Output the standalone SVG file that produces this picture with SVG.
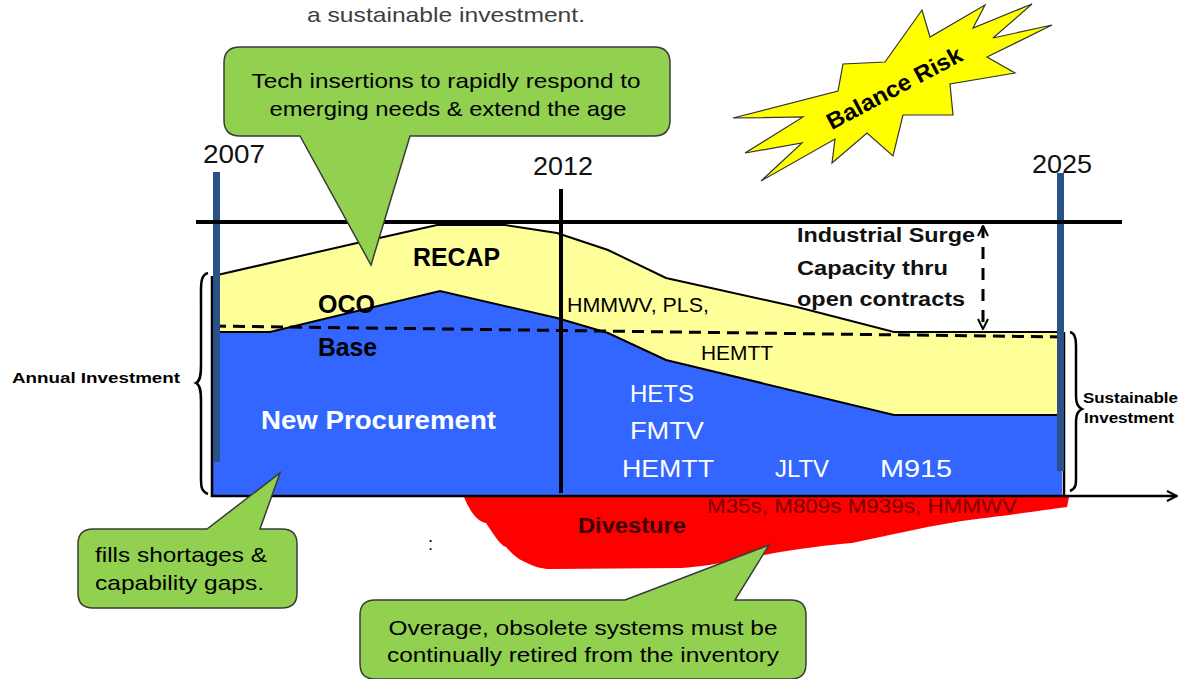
<svg xmlns="http://www.w3.org/2000/svg" width="1186" height="679" viewBox="0 0 1186 679">
<defs>
<style>
.cal{font-family:"Liberation Sans","Open Sans",sans-serif;}
.b{font-weight:bold;}
.callout{fill:#92D050;stroke:#3a3a3a;stroke-width:1.5;}
.ct{font-family:"Liberation Sans",Arial,sans-serif;font-size:21px;fill:#000;}
.wt{fill:#fff;font-size:24px;}
.yr{font-size:26px;fill:#111;}
.bar{fill:#2a5288;}
.blk{stroke:#000;fill:none;}
</style>
<marker id="openArrow" viewBox="0 0 12 12" refX="11" refY="6" markerWidth="12" markerHeight="12" markerUnits="userSpaceOnUse" orient="auto-start-reverse">
<path d="M1,1 L11,6 L1,11" fill="none" stroke="#000" stroke-width="2"/>
</marker>
</defs>
<rect width="1186" height="679" fill="#fff"/>

<text class="cal" x="446" y="22" font-size="21" fill="#404040" text-anchor="middle" textLength="278" lengthAdjust="spacingAndGlyphs">a sustainable investment.</text>

<g id="chart">
<path id="divesture-area" d="M464,497 C470,512 478,522 486,523 C494,535 500,545 506,547 C514,556 520,560 525,562 C535,567 542,569 550,569 L681,568 C720,565 745,558 764,555 C800,548 830,545 852,543 C890,535 920,528 950,523 C980,518 1005,516 1023,513 C1045,510 1060,508 1067,507 L1069,497 Z" fill="#FF0000"/>
<polygon id="recap-area" points="213,276 357,243 437,225 505,225 557,233 608,250 666,278 797,307 894,332 1062,332 1062,496 213,496" fill="#FFFF99"/>
<polyline points="213,276 357,243 437,225 505,225 557,233 608,250 666,278 797,307 894,332 1062,332" class="blk" stroke-width="2"/>
<polygon id="procurement-area" points="213,332 270,332 440,291 557,318 608,333 666,360 894,415 1062,415 1062,496 213,496" fill="#3366FF"/>
<polyline points="213,332 270,332 440,291 557,318 608,333 666,360 894,415 1062,415" class="blk" stroke-width="2"/>
<line x1="214" y1="326" x2="1062" y2="337" stroke="#000" stroke-width="3" stroke-dasharray="12,7"/>
<path d="M212,276 L212,496 L1064,496 L1064,332" class="blk" stroke-width="2.5"/>
<rect class="bar" x="213" y="172" width="7" height="290"/>
<rect class="bar" x="1057" y="173" width="7" height="298"/>
<line x1="196" y1="222" x2="1122" y2="222" stroke="#000" stroke-width="4"/>
<line x1="561" y1="189" x2="561" y2="493" stroke="#000" stroke-width="4"/>
</g>

<g id="connectors">
<line x1="1064" y1="496" x2="1177" y2="496" stroke="#000" stroke-width="2.5" marker-end="url(#openArrow)"/>
<line x1="983" y1="226" x2="983" y2="329" stroke="#000" stroke-width="3" stroke-dasharray="12,9" marker-start="url(#openArrow)" marker-end="url(#openArrow)"/>
<path d="M208,273 C200,275 201,285 201,300 L201,365 C201,376 200,381 196,383 C200,385 201,390 201,401 L201,470 C201,485 200,491 208,494" class="blk" stroke-width="2.5"/>
<path d="M1070,332 C1077,334 1076,343 1076,355 L1076,395 C1076,404 1078,407 1082,409 C1078,411 1076,414 1076,423 L1076,470 C1076,484 1077,488 1070,491" class="blk" stroke-width="2.5"/>
</g>

<g id="labels">
<text class="cal yr" x="203" y="163" textLength="62" lengthAdjust="spacingAndGlyphs">2007</text>
<text class="cal yr" x="533" y="175" textLength="60" lengthAdjust="spacingAndGlyphs">2012</text>
<text class="cal yr" x="1032" y="173" textLength="60" lengthAdjust="spacingAndGlyphs">2025</text>
<text class="cal b" x="413" y="266" font-size="26" textLength="87" lengthAdjust="spacingAndGlyphs">RECAP</text>
<text class="cal b" x="318" y="313" font-size="25" textLength="57" lengthAdjust="spacingAndGlyphs">OCO</text>
<text class="cal b" x="318" y="356" font-size="25" textLength="59" lengthAdjust="spacingAndGlyphs">Base</text>
<text class="cal b" x="261" y="429" font-size="25" fill="#fff" textLength="235" lengthAdjust="spacingAndGlyphs">New Procurement</text>
<text class="cal" x="567" y="312" font-size="20" textLength="142" lengthAdjust="spacingAndGlyphs">HMMWV, PLS,</text>
<text class="cal" x="701" y="360" font-size="20" textLength="72" lengthAdjust="spacingAndGlyphs">HEMTT</text>
<text class="cal wt" x="630" y="402" textLength="64" lengthAdjust="spacingAndGlyphs">HETS</text>
<text class="cal wt" x="630" y="439" textLength="74" lengthAdjust="spacingAndGlyphs">FMTV</text>
<text class="cal wt" x="622" y="477" textLength="92" lengthAdjust="spacingAndGlyphs">HEMTT</text>
<text class="cal wt" x="775" y="477" textLength="54" lengthAdjust="spacingAndGlyphs">JLTV</text>
<text class="cal wt" x="880" y="477" textLength="72" lengthAdjust="spacingAndGlyphs">M915</text>
<text class="cal b" x="797" y="242" font-size="20" fill="#111" textLength="178" lengthAdjust="spacingAndGlyphs">Industrial Surge</text>
<text class="cal b" x="797" y="275" font-size="20" fill="#111" textLength="151" lengthAdjust="spacingAndGlyphs">Capacity thru</text>
<text class="cal b" x="797" y="306" font-size="20" fill="#111" textLength="168" lengthAdjust="spacingAndGlyphs">open contracts</text>
<text class="cal b" x="12" y="383" font-size="15" textLength="168" lengthAdjust="spacingAndGlyphs">Annual Investment</text>
<text class="cal b" x="1083" y="403" font-size="14" textLength="95" lengthAdjust="spacingAndGlyphs">Sustainable</text>
<text class="cal b" x="1084" y="423" font-size="14" textLength="90" lengthAdjust="spacingAndGlyphs">Investment</text>
<text class="cal b" x="578" y="533" font-size="22" fill="#3a0000" textLength="108" lengthAdjust="spacingAndGlyphs">Divesture</text>
<text class="cal" x="707" y="513" font-size="20" fill="#7a0000" textLength="310" lengthAdjust="spacingAndGlyphs">M35s, M809s M939s, HMMWV</text>
<text class="cal" x="428" y="550" font-size="18" fill="#000">:</text>
</g>

<g id="balance-risk">
<polygon points="733,118 838,91 843,64 885,62 922,10 930,37 985,5 973,28 1032,4 993,38 1052,25 987,57 1015,73 950,84 953,115 903,115 893,156 867,133 832,163 835,139 761,181 802,143 745,153 803,117" fill="#FFFF00" stroke="#333" stroke-width="1.2"/>
<text transform="translate(898,95) rotate(-28)" text-anchor="middle" font-family="Liberation Sans, Arial, sans-serif" font-weight="bold" font-size="23" textLength="150" lengthAdjust="spacingAndGlyphs">Balance Risk</text>
</g>

<g id="callout-tech">
<path class="callout" d="M240,47 L654,47 Q670,47 670,63 L670,120 Q670,136 654,136 L410,136 L371,265 L300,136 L240,136 Q224,136 224,120 L224,63 Q224,47 240,47 Z"/>
<text class="ct" x="446" y="88" text-anchor="middle" font-size="22" textLength="389" lengthAdjust="spacingAndGlyphs">Tech insertions to rapidly respond to</text>
<text class="ct" x="448" y="116" text-anchor="middle" font-size="22" textLength="357" lengthAdjust="spacingAndGlyphs">emerging needs &amp; extend the age</text>
</g>

<g id="callout-fills">
<path class="callout" d="M93,529 L207,529 L280,473 L260,529 L282,529 Q297,529 297,544 L297,593 Q297,608 282,608 L93,608 Q78,608 78,593 L78,544 Q78,529 93,529 Z"/>
<text class="ct" x="95" y="562" textLength="172" lengthAdjust="spacingAndGlyphs">fills shortages &amp;</text>
<text class="ct" x="95" y="590" textLength="169" lengthAdjust="spacingAndGlyphs">capability gaps.</text>
</g>

<g id="callout-overage">
<path class="callout" d="M375,600 L625,600 L769,545 L735,600 L791,600 Q806,600 806,615 L806,664 Q806,679 791,679 L375,679 Q360,679 360,664 L360,615 Q360,600 375,600 Z"/>
<text class="ct" x="583" y="635" text-anchor="middle" textLength="389" lengthAdjust="spacingAndGlyphs">Overage, obsolete systems must be</text>
<text class="ct" x="583" y="662" text-anchor="middle" textLength="392" lengthAdjust="spacingAndGlyphs">continually retired from the inventory</text>
</g>
</svg>
